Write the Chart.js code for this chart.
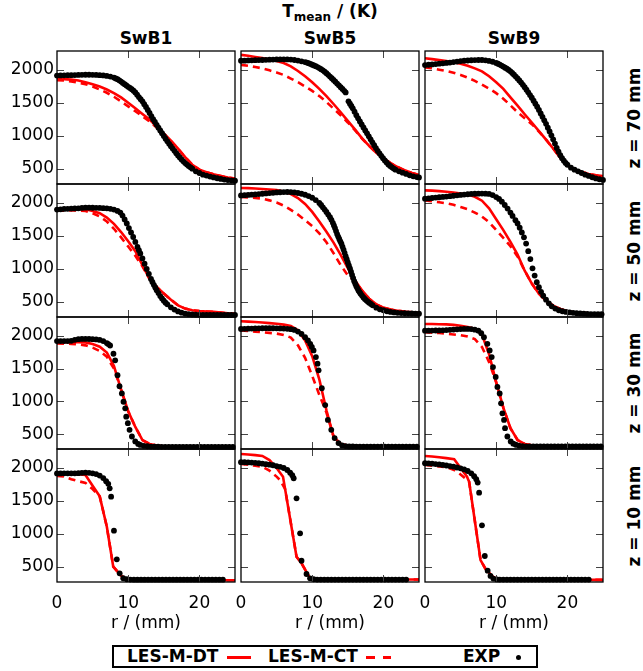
<!DOCTYPE html>
<html><head><meta charset="utf-8">
<script src="https://cdn.jsdelivr.net/npm/chart.js@4.4.1/dist/chart.umd.min.js"></script>
<style>
body{margin:0;width:643px;height:671px;background:#fff;position:relative;overflow:hidden;font-family:'DejaVu Sans',sans-serif;color:#000}
canvas{position:absolute}
.t{position:absolute;font-weight:bold;font-size:17px;white-space:nowrap;transform:translate(-50%,-50%);line-height:1.2}
.rl{position:absolute;font-weight:bold;font-size:17px;white-space:nowrap;transform:translate(-50%,-50%) rotate(-90deg);line-height:1.2}
sub{font-size:12px;vertical-align:-4px}
#legend{position:absolute;left:112px;top:645px;width:422px;height:19px;border:2px solid #000}
#legend .lt{position:absolute;top:0;font-weight:bold;font-size:17px;line-height:19px}
#legend .ln{position:absolute;top:9px;height:3px;background:#f00}
#legend .dot{position:absolute;top:8px;width:5px;height:5px;border-radius:50%;background:#000}
</style></head><body>
<div class="t" style="left:330px;top:13px">T<sub>mean</sub> / (K)</div>
<div id="legend"></div>
<script>
// ---------- data ----------
const colLabels = ['SwB1', 'SwB5', 'SwB9'];
const rowLabels = ['z = 70 mm', 'z = 50 mm', 'z = 30 mm', 'z = 10 mm'];
const seriesNames = ['LES-M-DT', 'LES-M-CT', 'EXP'];
const xTitle = 'r / (mm)';
const xTickVals = [0, 10, 20];
const yTickVals = [500, 1000, 1500, 2000];
const xRange = [0, 25];
const yRange = [273, 2288];

// z = 70 mm
const exp_z70_SwB1 = [[0,1915],[0.5,1918],[1,1920],[1.5,1921],[2,1922],[2.5,1924],[3,1925],[3.5,1927],[4,1928],[4.5,1928],[5,1927],[5.5,1925],[6,1922],[6.5,1918],[7,1910],[7.5,1900],[8,1885],[8.25,1873],[8.5,1860],[8.75,1843],[9,1825],[9.25,1805],[9.5,1785],[9.75,1765],[10,1745],[10.25,1728],[10.5,1710],[10.75,1686],[11,1660],[11.25,1625],[11.5,1590],[11.75,1558],[12,1525],[12.25,1483],[12.5,1440],[12.75,1395],[13,1350],[13.25,1302],[13.5,1255],[13.75,1212],[14,1170],[14.25,1127],[14.5,1085],[14.75,1042],[15,1000],[15.25,960],[15.5,920],[15.75,882],[16,845],[16.25,810],[16.5,775],[16.75,740],[17,705],[17.25,675],[17.5,645],[17.75,617],[18,590],[18.25,567],[18.5,545],[18.75,525],[19,505],[19.5,465],[20,440],[20.5,415],[21,400],[21.5,385],[22,372],[22.5,360],[23,350],[23.5,340],[24,332],[24.5,328],[25,322]];
const dt_z70_SwB1 = [[0,1865],[1,1862],[2,1855],[3,1840],[4,1815],[5,1785],[6,1750],[7,1705],[8,1650],[9,1585],[10,1505],[11,1420],[12,1335],[13,1250],[14,1145],[15,1040],[16,930],[17,810],[18,680],[19,565],[20,490],[21,450],[22,420],[23,395],[24,372],[25,355]];
const ct_z70_SwB1 = [[0,1845],[1,1840],[2,1828],[3,1810],[4,1785],[5,1750],[6,1705],[7,1655],[8,1595],[9,1525],[10,1450],[11,1375],[12,1300],[13,1220],[14,1130],[15,1030],[16,925],[17,805],[18,680],[19,565],[20,490],[21,450],[22,420],[23,395],[24,372],[25,355]];

const exp_z70_SwB5 = [[0,2140],[0.5,2142],[1,2145],[1.5,2147],[2,2149],[2.5,2151],[3,2152],[3.5,2154],[4,2156],[4.5,2158],[5,2160],[5.5,2161],[6,2162],[6.5,2161],[7,2158],[7.5,2152],[8,2143],[8.5,2132],[9,2120],[9.25,2112],[9.5,2103],[9.75,2092],[10,2080],[10.25,2070],[10.5,2058],[10.75,2045],[11,2030],[11.25,2013],[11.5,1995],[11.75,1975],[12,1952],[12.25,1927],[12.5,1900],[12.75,1875],[13,1850],[13.25,1823],[13.5,1795],[13.75,1768],[14,1740],[14.25,1712],[14.5,1685],[14.7,1660],[15.1,1525],[15.3,1490],[15.5,1455],[15.7,1420],[15.95,1368],[16.2,1315],[16.45,1268],[16.7,1220],[16.95,1175],[17.2,1130],[17.45,1085],[17.7,1040],[17.95,995],[18.2,950],[18.45,905],[18.7,860],[18.95,818],[19.2,775],[19.45,738],[19.7,700],[19.95,665],[20.2,630],[20.45,600],[20.7,570],[20.95,547],[21.2,525],[21.45,507],[21.7,490],[22.2,465],[22.7,445],[23.2,425],[23.7,405],[24.2,390],[24.7,378],[25,372]];
const dt_z70_SwB5 = [[0,2230],[1,2215],[2,2198],[3,2180],[4,2160],[5,2138],[6,2105],[7,2055],[8,1985],[9,1905],[10,1815],[11,1715],[12,1605],[13,1485],[14,1360],[15,1230],[16,1100],[17,965],[18,850],[19,748],[20,665],[21,590],[22,530],[23,480],[24,440],[25,410]];
const ct_z70_SwB5 = [[0,2078],[1,2065],[2,2045],[3,2025],[4,1995],[5,1963],[6,1925],[7,1870],[8,1815],[9,1750],[10,1683],[11,1605],[12,1515],[13,1415],[14,1315],[15,1205],[16,1090],[17,962],[18,850],[19,748],[20,665],[21,590],[22,530],[23,480],[24,440],[25,410]];

const exp_z70_SwB9 = [[0,2075],[0.5,2080],[1,2085],[1.5,2090],[2,2096],[2.5,2102],[3,2108],[3.5,2113],[4,2120],[4.5,2128],[5,2135],[5.5,2140],[6,2144],[6.5,2148],[7,2150],[7.5,2152],[8,2152],[8.5,2147],[9,2138],[9.5,2125],[10,2108],[10.25,2095],[10.5,2082],[10.75,2067],[11,2052],[11.25,2036],[11.5,2020],[11.75,2000],[12,1980],[12.25,1955],[12.5,1930],[12.75,1901],[13,1872],[13.25,1841],[13.5,1810],[13.75,1775],[14,1740],[14.25,1701],[14.5,1662],[14.75,1621],[15,1580],[15.25,1535],[15.5,1490],[15.75,1443],[16,1395],[16.25,1342],[16.5,1290],[16.75,1237],[17,1185],[17.25,1127],[17.5,1070],[17.75,1010],[18,950],[18.25,885],[18.5,820],[18.75,762],[19,710],[19.25,665],[19.5,625],[19.75,593],[20,565],[20.5,520],[21,490],[21.5,465],[22,440],[22.5,415],[23,395],[23.5,375],[24,358],[24.5,345],[25,335]];
const dt_z70_SwB9 = [[0,2178],[1,2165],[2,2150],[3,2135],[4,2118],[5,2095],[6,2065],[7,2025],[8,1980],[9,1905],[10,1815],[11,1715],[12,1585],[13,1460],[14,1330],[15,1205],[16,1075],[17,945],[18,810],[19,670],[20,560],[21,495],[22,455],[23,425],[24,405],[25,392]];
const ct_z70_SwB9 = [[0,2040],[1,2025],[2,2005],[3,1985],[4,1958],[5,1925],[6,1885],[7,1835],[8,1778],[9,1718],[10,1650],[11,1565],[12,1465],[13,1360],[14,1270],[15,1180],[16,1068],[17,945],[18,810],[19,670],[20,560],[21,495],[22,455],[23,425],[24,405],[25,392]];

// z = 50 mm
const exp_z50_SwB1 = [[0,1900],[0.5,1905],[1,1910],[1.5,1912],[2,1915],[2.5,1918],[3,1920],[3.5,1925],[4,1930],[4.5,1930],[5,1928],[5.5,1927],[6,1925],[6.5,1922],[7,1920],[7.5,1912],[8,1900],[8.5,1880],[8.9,1855],[9.2,1810],[9.5,1750],[9.8,1690],[10.1,1620],[10.4,1555],[10.7,1485],[11,1410],[11.3,1335],[11.5,1285],[11.7,1235],[12,1160],[12.3,1080],[12.6,1000],[12.9,925],[13.2,850],[13.4,805],[13.6,760],[13.8,720],[14,680],[14.25,635],[14.5,590],[14.75,553],[15,520],[15.25,490],[15.5,465],[16,420],[16.5,385],[17,358],[17.5,338],[18,325],[18.5,316],[19,311],[19.5,308],[20,306],[20.5,305],[21,305],[21.5,305],[22,304],[22.5,304],[23,304],[23.5,303],[24,303],[24.5,303],[25,303]];
const dt_z50_SwB1 = [[0,1895],[1,1900],[2,1905],[3,1908],[4,1905],[5,1880],[6,1845],[7,1780],[8,1685],[9,1560],[10,1420],[11,1270],[12,1060],[13,850],[14,730],[15,630],[16,535],[17,450],[18,400],[19,375],[20,362],[21,355],[22,350],[23,340],[24,330],[25,322]];
const ct_z50_SwB1 = [[0,1885],[1,1885],[2,1887],[3,1888],[4,1880],[5,1845],[6,1795],[7,1720],[8,1610],[9,1480],[10,1340],[11,1200],[12,1040],[13,850],[14,730],[15,630],[16,535],[17,450],[18,400],[19,375],[20,362],[21,355],[22,350],[23,340],[24,330],[25,322]];

const exp_z50_SwB5 = [[0,2115],[0.5,2118],[1,2122],[1.5,2126],[2,2130],[2.5,2135],[3,2140],[3.5,2145],[4,2150],[4.5,2155],[5,2160],[5.5,2163],[6,2166],[6.5,2167],[7,2165],[7.5,2160],[8,2152],[8.5,2140],[9,2125],[9.5,2105],[10,2080],[10.5,2045],[11,2000],[11.25,1970],[11.5,1935],[11.75,1900],[12,1865],[12.25,1825],[12.5,1785],[12.7,1745],[12.9,1700],[13.05,1660],[13.2,1620],[13.35,1575],[13.5,1530],[13.65,1492],[13.8,1455],[13.95,1420],[14.1,1385],[14.25,1340],[14.4,1295],[14.55,1245],[14.7,1195],[14.85,1148],[15,1100],[15.15,1055],[15.3,1010],[15.45,960],[15.6,910],[15.75,862],[15.9,815],[16.05,777],[16.2,740],[16.35,707],[16.5,675],[16.65,650],[16.8,625],[17,597],[17.2,570],[17.4,547],[17.6,525],[17.8,507],[18,490],[18.25,470],[18.5,450],[19,415],[19.5,390],[20,375],[20.5,360],[21,350],[21.5,343],[22,337],[22.5,333],[23,330],[23.5,328],[24,326],[24.5,325],[25,324]];
const dt_z50_SwB5 = [[0,2228],[1,2225],[2,2220],[3,2213],[4,2205],[5,2195],[6,2175],[7,2135],[8,2075],[9,1985],[10,1865],[11,1720],[12,1565],[13,1400],[14,1215],[15,1015],[16,830],[17,675],[18,550],[19,465],[20,415],[21,385],[22,368],[23,355],[24,345],[25,338]];
const ct_z50_SwB5 = [[0,2092],[1,2085],[2,2077],[3,2066],[4,2040],[5,2008],[6,1960],[7,1895],[8,1825],[9,1740],[10,1650],[11,1540],[12,1405],[13,1240],[14,1060],[15,905],[16,815],[17,670],[18,550],[19,465],[20,415],[21,385],[22,368],[23,355],[24,345],[25,338]];

const exp_z50_SwB9 = [[0,2065],[0.5,2070],[1,2076],[1.5,2082],[2,2087],[2.5,2092],[3,2098],[3.5,2103],[4,2110],[4.5,2117],[5,2123],[5.5,2128],[6,2133],[6.5,2137],[7,2140],[7.5,2142],[8,2143],[8.5,2142],[9,2138],[9.5,2120],[10,2090],[10.4,2062],[10.8,2020],[11.2,1970],[11.6,1915],[12,1855],[12.3,1805],[12.7,1740],[13,1690],[13.3,1625],[13.6,1555],[13.9,1480],[14.2,1385],[14.5,1270],[14.8,1150],[15.1,1010],[15.4,900],[15.7,800],[16,725],[16.3,655],[16.6,595],[17,535],[17.4,480],[17.8,435],[18.3,400],[18.8,375],[19.3,360],[19.8,350],[20.3,342],[20.8,336],[21.3,331],[21.8,327],[22.3,323],[22.8,320],[23.3,318],[23.8,317],[24.3,316],[24.8,315]];
const dt_z50_SwB9 = [[0,2192],[1,2187],[2,2180],[3,2170],[4,2160],[5,2145],[6,2128],[7,2095],[8,2035],[9,1920],[10,1755],[11,1590],[12,1410],[13,1220],[14,975],[15,780],[16,625],[17,520],[18,445],[19,395],[20,360],[21,342],[22,335],[23,330],[24,327],[25,325]];
const ct_z50_SwB9 = [[0,2040],[1,2028],[2,2012],[3,1995],[4,1973],[5,1940],[6,1905],[7,1855],[8,1795],[9,1710],[10,1590],[11,1470],[12,1345],[13,1190],[14,975],[15,780],[16,625],[17,520],[18,445],[19,395],[20,360],[21,342],[22,335],[23,330],[24,327],[25,325]];

// z = 30 mm
const exp_z30_SwB1 = [[0,1920],[0.5,1920],[1,1920],[1.5,1921],[2,1925],[2.5,1940],[3,1950],[3.5,1953],[4,1953],[4.5,1952],[5,1950],[5.5,1946],[6,1938],[6.5,1920],[7,1890],[7.2,1875],[7.46,1853],[7.93,1727],[8.17,1626],[8.5,1399],[8.78,1232],[9.11,1121],[9.34,994],[9.58,894],[9.72,767],[9.95,667],[10.19,565],[10.52,464],[10.99,388],[11.4,350],[11.7,335],[12.2,322],[12.7,315],[13.2,310],[13.7,308],[14.2,307],[14.7,306],[15.2,306],[15.7,306],[16.2,305],[16.7,305],[17.2,305],[17.7,305],[18.2,305],[18.7,305],[19.2,305],[19.7,305],[20.2,305],[20.7,305],[21.2,305],[21.7,305],[22.2,305],[22.7,305],[23.2,305],[23.7,305],[24.2,305],[24.7,305]];
const dt_z30_SwB1 = [[0,1903],[1,1903],[2,1904],[3,1905],[4,1900],[5,1875],[6,1835],[7,1745],[8,1540],[9,1180],[10,850],[11,610],[12,410],[13,350],[14,325],[15,315],[17,310],[20,308],[25,307]];
const ct_z30_SwB1 = [[0,1885],[1,1882],[2,1878],[3,1870],[4,1855],[5,1820],[6,1770],[7,1680],[8,1500],[9,1180],[10,850],[11,610],[12,410],[13,350],[14,325],[15,315],[17,310],[20,308],[25,307]];

const exp_z30_SwB5 = [[0,2105],[0.5,2108],[1,2110],[1.5,2112],[2,2114],[2.5,2115],[3,2116],[3.5,2117],[4,2117],[4.5,2116],[5,2115],[5.5,2114],[6,2112],[6.5,2108],[7,2102],[7.5,2090],[8,2065],[8.5,2030],[9,1979],[9.4,1930],[9.72,1879],[9.95,1830],[10.19,1777],[10.52,1676],[10.75,1576],[10.9,1474],[11.35,1200],[11.83,944],[12.2,717],[12.68,565],[13.15,440],[13.7,364],[14.2,328],[14.7,318],[15.2,313],[15.7,311],[16.2,310],[16.7,310],[17.2,310],[17.7,310],[18.2,310],[18.7,310],[19.2,310],[19.7,310],[20.2,310],[20.7,310],[21.2,310],[21.7,310],[22.2,310],[22.7,310],[23.2,310],[23.7,310],[24.2,310],[24.7,310]];
const dt_z30_SwB5 = [[0,2222],[1,2218],[2,2212],[3,2205],[4,2195],[5,2185],[6,2172],[7,2150],[8,2085],[9,1930],[10,1690],[11,1335],[12,865],[13,464],[14,350],[15,325],[17,315],[20,312],[25,310]];
const ct_z30_SwB5 = [[0,2082],[1,2075],[2,2065],[3,2055],[4,2045],[5,2035],[6,2015],[7,1975],[8,1855],[9,1665],[10,1390],[11,1100],[12,830],[13,464],[14,350],[15,325],[17,315],[20,312],[25,310]];

const exp_z30_SwB9 = [[0,2080],[0.5,2080],[1,2081],[1.5,2082],[2,2083],[2.5,2085],[3,2088],[3.5,2092],[4,2096],[4.5,2100],[5,2104],[5.5,2106],[6,2106],[6.5,2103],[7,2095],[7.5,2080],[7.9,2040],[8.28,1979],[8.76,1879],[9.08,1777],[9.37,1676],[9.55,1524],[9.93,1373],[10.17,1221],[10.49,1121],[10.68,970],[10.87,818],[11.1,717],[11.24,591],[11.57,464],[12.04,388],[12.4,355],[12.75,338],[13.2,325],[13.7,318],[14.2,314],[14.7,312],[15.2,312],[15.7,311],[16.2,311],[16.7,311],[17.2,311],[17.7,311],[18.2,311],[18.7,311],[19.2,311],[19.7,311],[20.2,311],[20.7,311],[21.2,311],[21.7,311],[22.2,311],[22.7,311],[23.2,311],[23.7,311],[24.2,311],[24.7,311]];
const dt_z30_SwB9 = [[0,2182],[1,2181],[2,2178],[3,2175],[4,2168],[5,2155],[6,2135],[7,2108],[8,2020],[9,1720],[10,1290],[11,905],[12,590],[13,410],[14,350],[15,330],[17,320],[20,318],[25,316]];
const ct_z30_SwB9 = [[0,2055],[1,2050],[2,2043],[3,2033],[4,2022],[5,2010],[6,1990],[7,1950],[8,1830],[9,1600],[10,1290],[11,905],[12,590],[13,410],[14,350],[15,330],[17,320],[20,318],[25,316]];

// z = 10 mm
const exp_z10_SwB1 = [[0,1918],[0.5,1918],[1,1919],[1.5,1919],[2,1920],[2.5,1920],[3,1922],[3.5,1927],[4,1929],[4.5,1927],[5,1920],[5.5,1908],[6,1885],[6.5,1848],[6.9,1800],[7.2,1760],[7.4,1692],[7.6,1566],[8,1050],[8.4,617],[8.8,405],[9.3,330],[9.8,315],[10.3,310],[10.8,308],[11.3,308],[11.8,308],[12.3,308],[12.8,308],[13.3,308],[13.8,308],[14.3,308],[14.8,308],[15.3,308],[15.8,308],[16.3,308],[16.8,308],[17.3,308],[17.8,308],[18.3,308],[18.8,308],[19.3,308],[19.8,308],[20.3,308],[20.8,308],[21.3,308],[21.8,308],[22.3,308],[22.8,308],[23.3,308]];
const dt_z10_SwB1 = [[0,1910],[1,1910],[2,1908],[3,1905],[4,1895],[5,1730],[6,1570],[7,1110],[7.9,505],[8.9,380],[9.8,305],[11,300],[13,300],[15,300],[17,300],[19,300],[21,300],[23,300],[25,300]];
const ct_z10_SwB1 = [[0,1880],[1,1870],[2,1830],[3,1800],[4,1775],[5,1680],[6,1570],[7,1110],[7.9,505],[8.9,380],[9.8,305],[11,300],[13,300],[15,300],[17,300],[19,300],[21,300],[23,300],[25,300]];

const exp_z10_SwB5 = [[0,2088],[0.5,2087],[1,2085],[1.5,2082],[2,2078],[2.5,2072],[3,2065],[3.5,2058],[4,2050],[4.5,2042],[5,2030],[5.5,2018],[6,2000],[6.5,1970],[6.9,1930],[7.2,1890],[7.4,1845],[7.8,1541],[8.3,1010],[8.5,595],[9.2,394],[9.7,329],[10.2,315],[10.7,310],[11.2,310],[11.7,310],[12.2,310],[12.7,310],[13.2,310],[13.7,310],[14.2,310],[14.7,310],[15.2,310],[15.7,310],[16.2,310],[16.7,310],[17.2,310],[17.7,310],[18.2,310],[18.7,310],[19.2,310],[19.7,310],[20.2,310],[20.7,310],[21.2,310],[21.7,310],[22.2,310],[22.7,310],[23.2,310]];
const dt_z10_SwB5 = [[0,2212],[1,2205],[2,2195],[3,2182],[4,2120],[5,2000],[5.9,1869],[7.8,656],[8.5,556],[9.7,329],[11,310],[13,310],[15,310],[17,310],[19,310],[21,310],[23,310],[25,310]];
const ct_z10_SwB5 = [[0,2062],[1,2050],[2,2035],[3,2020],[4,1960],[5,1870],[5.5,1815],[6.2,1680],[7.8,656],[8.5,556],[9.7,329],[11,310],[13,310],[15,310],[17,310],[19,310],[21,310],[23,310],[25,310]];

const exp_z10_SwB9 = [[0,2072],[0.5,2070],[1,2066],[1.5,2060],[2,2054],[2.5,2046],[3,2038],[3.5,2030],[4,2020],[4.5,2008],[5,1995],[5.5,1978],[6,1955],[6.5,1920],[6.9,1875],[7.2,1830],[7.4,1780],[7.6,1626],[8,1132],[8.4,667],[8.8,445],[9.2,365],[9.6,325],[10.1,312],[10.5,310],[11,310],[11.5,310],[12,310],[12.5,310],[13,310],[13.5,310],[14,310],[14.5,310],[15,310],[15.5,310],[16,310],[16.5,310],[17,310],[17.5,310],[18,310],[18.5,310],[19,310],[19.5,310],[20,310],[20.5,310],[21,310],[21.5,310],[22,310],[22.5,310],[23,310]];
const dt_z10_SwB9 = [[0,2182],[1,2175],[2,2162],[3,2150],[4.1,2132],[5.2,1970],[5.9,1869],[6.2,1790],[7.8,606],[8.5,470],[9.5,354],[10.3,310],[12,305],[14,305],[16,305],[18,305],[20,305],[22,305],[25,305]];
const ct_z10_SwB9 = [[0,2045],[1,2035],[2,2025],[3,2010],[4,1975],[4.8,1919],[5.7,1840],[6.2,1790],[7.8,606],[8.5,470],[9.5,354],[10.3,310],[12,305],[14,305],[16,305],[18,305],[20,305],[22,305],[25,305]];

const panels = [
  [{exp:exp_z70_SwB1, dt:dt_z70_SwB1, ct:ct_z70_SwB1}, {exp:exp_z70_SwB5, dt:dt_z70_SwB5, ct:ct_z70_SwB5}, {exp:exp_z70_SwB9, dt:dt_z70_SwB9, ct:ct_z70_SwB9}],
  [{exp:exp_z50_SwB1, dt:dt_z50_SwB1, ct:ct_z50_SwB1}, {exp:exp_z50_SwB5, dt:dt_z50_SwB5, ct:ct_z50_SwB5}, {exp:exp_z50_SwB9, dt:dt_z50_SwB9, ct:ct_z50_SwB9}],
  [{exp:exp_z30_SwB1, dt:dt_z30_SwB1, ct:ct_z30_SwB1}, {exp:exp_z30_SwB5, dt:dt_z30_SwB5, ct:ct_z30_SwB5}, {exp:exp_z30_SwB9, dt:dt_z30_SwB9, ct:ct_z30_SwB9}],
  [{exp:exp_z10_SwB1, dt:dt_z10_SwB1, ct:ct_z10_SwB1}, {exp:exp_z10_SwB5, dt:dt_z10_SwB5, ct:ct_z10_SwB5}, {exp:exp_z10_SwB9, dt:dt_z10_SwB9, ct:ct_z10_SwB9}]
];

// ---------- layout / styles ----------
const FONT = "'DejaVu Sans', sans-serif";
const colL = [57, 241, 425];
const PW = 178;
const rowT = [51, 184, 317, 449, 582];
const RED = '#ff0000';

const toXY = a => a.map(p => ({x: p[0], y: p[1]}));

const framePlugin = {
  id: 'frame',
  afterDraw(chart) {
    const {ctx, chartArea: a} = chart;
    const xs = chart.scales.x, ys = chart.scales.y;
    ctx.save();
    ctx.strokeStyle = '#444';
    ctx.lineWidth = 1;
    const L = 7;
    ctx.beginPath();
    xs.ticks.forEach(t => {
      const px = Math.round(xs.getPixelForValue(t.value)) + 0.5;
      if (px <= a.left + 2 || px >= a.right - 2) return;
      ctx.moveTo(px, a.bottom); ctx.lineTo(px, a.bottom - L);
      ctx.moveTo(px, a.top); ctx.lineTo(px, a.top + L);
    });
    ys.ticks.forEach(t => {
      const py = Math.round(ys.getPixelForValue(t.value)) + 0.5;
      if (py <= a.top + 2 || py >= a.bottom - 2) return;
      ctx.moveTo(a.left, py); ctx.lineTo(a.left + L, py);
      ctx.moveTo(a.right, py); ctx.lineTo(a.right - L, py);
    });
    ctx.stroke();
    ctx.strokeStyle = '#000';
    ctx.lineWidth = 1.3;
    ctx.strokeRect(a.left, a.top, a.right - a.left, a.bottom - a.top);
    ctx.restore();
  }
};

// titles
colLabels.forEach((t, j) => {
  const d = document.createElement('div');
  d.className = 't'; d.textContent = t;
  d.style.left = (colL[j] + PW / 2) + 'px'; d.style.top = '38px';
  document.body.appendChild(d);
});
rowLabels.forEach((t, i) => {
  const d = document.createElement('div');
  d.className = 'rl'; d.textContent = t;
  d.style.left = '634px'; d.style.top = ((rowT[i] + rowT[i + 1]) / 2) + 'px';
  document.body.appendChild(d);
});

// legend
(function () {
  const lg = document.getElementById('legend');
  const add = (cls, left, w, txt) => {
    const e = document.createElement('span');
    e.className = cls; e.style.left = left + 'px';
    if (w) e.style.width = w + 'px';
    if (txt) e.textContent = txt;
    lg.appendChild(e);
  };
  add('lt', 13, 0, seriesNames[0]);
  add('ln', 113, 24);
  add('lt', 154, 0, seriesNames[1]);
  add('ln', 252, 9);
  add('ln', 269, 8);
  add('lt', 349, 0, seriesNames[2]);
  add('dot', 402, 0);
})();

Chart.defaults.font.family = FONT;

panels.forEach((row, i) => row.forEach((p, j) => {
  const c = document.createElement('canvas');
  const first = j === 0, last = i === 3;
  const padL = first ? 0 : 6;
  const yW = first ? 57 : 0;
  const xH = last ? 52 : 0;
  const padB = last ? 0 : 4;
  const w = (first ? 57 : 6) + PW + 4;
  const h = 4 + (rowT[i + 1] - rowT[i]) + (last ? 52 : 4);
  c.width = w; c.height = h;
  c.style.width = w + 'px'; c.style.height = h + 'px';
  c.style.left = (first ? 0 : colL[j] - 6) + 'px';
  c.style.top = (rowT[i] - 4) + 'px';
  document.body.appendChild(c);
  new Chart(c, {
    type: 'scatter',
    data: {
      datasets: [
        {label: seriesNames[2], data: toXY(p.exp), showLine: false, pointRadius: 2.9, pointBackgroundColor: '#000', pointBorderWidth: 0, pointHoverRadius: 2.9, order: 0, clip: false},
        {label: seriesNames[1], data: toXY(p.ct), showLine: true, borderColor: RED, borderWidth: 2.6, borderDash: [7, 5], pointRadius: 0, order: 1},
        {label: seriesNames[0], data: toXY(p.dt), showLine: true, borderColor: RED, borderWidth: 2.6, pointRadius: 0, order: 2}
      ]
    },
    options: {
      responsive: false, animation: false, devicePixelRatio: 1,
      layout: {padding: {left: padL, top: 4, right: 4, bottom: padB}},
      plugins: {legend: {display: false}, tooltip: {enabled: false}},
      events: [],
      scales: {
        x: {
          type: 'linear', position: 'bottom', min: xRange[0], max: xRange[1],
          grid: {display: false, drawTicks: false}, border: {display: false},
          ticks: {display: last, font: {family: FONT, size: 17}, color: '#000', padding: 11, maxRotation: 0, autoSkip: false, callback: v => String(v)},
          title: {display: last, text: xTitle, font: {family: FONT, size: 17}, color: '#000', padding: 0},
          afterBuildTicks: s => { s.ticks = xTickVals.map(v => ({value: v})); },
          afterFit: s => { s.height = xH; s.paddingLeft = 0; s.paddingRight = 0; }
        },
        y: {
          type: 'linear', position: 'left', min: yRange[0], max: yRange[1],
          grid: {display: false, drawTicks: false}, border: {display: false},
          ticks: {display: first, font: {family: FONT, size: 17}, color: '#000', padding: 3, autoSkip: false, callback: v => String(v)},
          afterBuildTicks: s => { s.ticks = yTickVals.map(v => ({value: v})); },
          afterFit: s => { s.width = yW; s.paddingTop = 0; s.paddingBottom = 0; }
        }
      }
    },
    plugins: [framePlugin]
  });
}));
</script>
</body></html>
